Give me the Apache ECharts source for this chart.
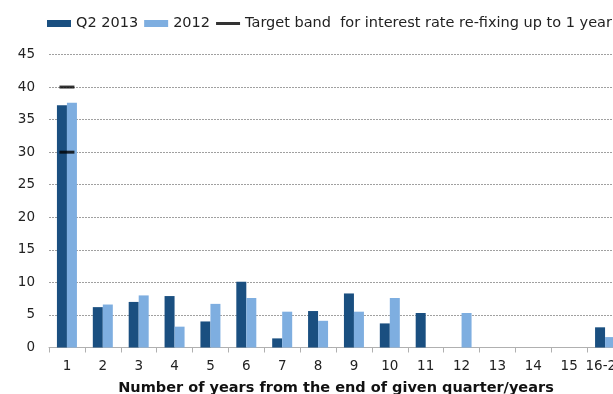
<!DOCTYPE html>
<html><head><meta charset="utf-8">
<script src="https://cdn.jsdelivr.net/npm/echarts@6/dist/echarts.min.js"></script>
<style>html,body{margin:0;padding:0;background:#fff}#c{width:613px;height:394px}</style>
</head><body><div id="c"></div>
<script>
const categories = ['1','2','3','4','5','6','7','8','9','10','11','12','13','14','15','16-20'];
const q2_2013 = [37.2, 6.2, 7.0, 7.9, 4.0, 10.1, 1.4, 5.6, 8.3, 3.7, 5.3, 0, 0, 0, 0, 3.1];
const y2012 = [37.6, 6.6, 8.0, 3.2, 6.7, 7.6, 5.5, 4.1, 5.5, 7.6, 0, 5.3, 0, 0, 0, 1.6];
const targetBand = [[0, 40], [0, 30]];
const yTicks = {min: 0, max: 45, interval: 5};
const names = ['Q2 2013', '2012', 'Target band  for interest rate re-fixing up to 1 year'];

const font = 'DejaVu Sans, Verdana, sans-serif';
const chart = echarts.init(document.getElementById('c'), null, {renderer: 'canvas'});
chart.setOption({
  animation: false,
  textStyle: {fontFamily: font},
  legend: {
    left: 42, top: 11, width: 900, itemGap: 6, itemWidth: 24, itemHeight: 7, padding: 5,
    textStyle: {fontFamily: font, fontSize: 14.5, color: '#222'},
    data: [
      {name: names[0], icon: 'rect'},
      {name: names[1], icon: 'rect'},
      {name: names[2], icon: 'path://M0,0H24V3H0Z', itemStyle: {color: '#000'}}
    ]
  },
  grid: {left: 49, right: -10, top: 54.5, bottom: 46.5, containLabel: false, outerBoundsMode: 'none'},
  xAxis: {
    type: 'category', data: categories,
    axisLine: {lineStyle: {color: '#b0b0b0', width: 1}},
    axisTick: {show: true, length: 5, lineStyle: {color: '#b0b0b0'}},
    axisLabel: {color: '#222', fontSize: 13.5, margin: 12, fontFamily: font, interval: 0},
    name: 'Number of years from the end of given quarter/years',
    nameLocation: 'middle', nameGap: 33,
    nameTextStyle: {fontWeight: 'bold', fontSize: 14.5, color: '#111', fontFamily: font}
  },
  yAxis: {
    type: 'value', min: yTicks.min, max: yTicks.max, interval: yTicks.interval,
    axisLine: {show: false}, axisTick: {show: false},
    axisLabel: {color: '#222', fontSize: 13.5, margin: 14, fontFamily: font},
    splitLine: {lineStyle: {color: '#a0a0a0', type: [2, 1], width: 1}}
  },
  series: [
    {name: names[0], type: 'bar', data: q2_2013, barWidth: 10, barGap: '0%', itemStyle: {color: '#1a4f80'}},
    {name: names[1], type: 'bar', data: y2012, barWidth: 10, itemStyle: {color: '#7eaee0'}},
    {name: names[2], type: 'scatter', data: targetBand, symbol: 'rect', symbolSize: [15, 3],
     itemStyle: {color: '#000'}, z: 5}
  ]
});
</script></body></html>
